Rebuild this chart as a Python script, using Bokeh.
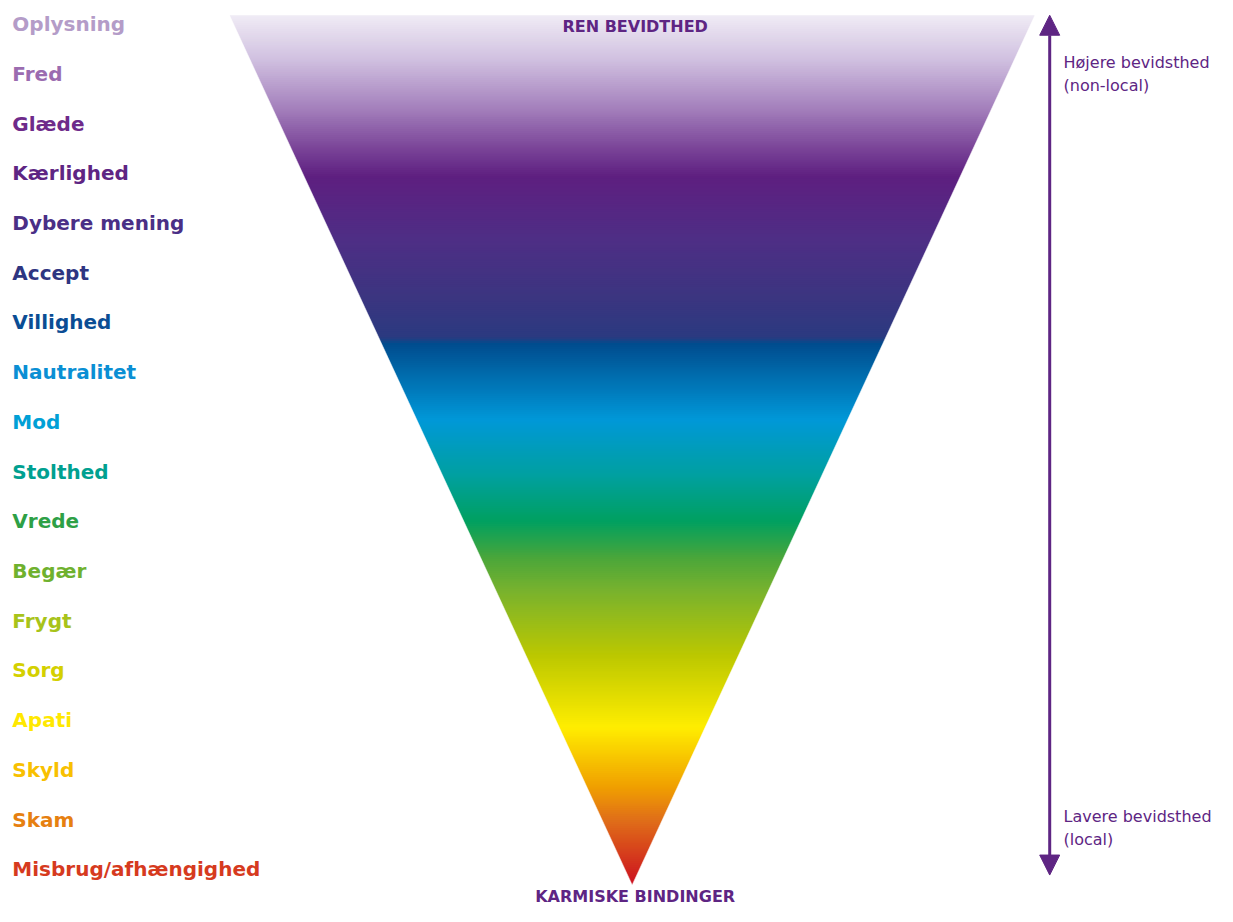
import numpy as np
from bokeh.plotting import figure
from bokeh.models import Range1d, Arrow, NormalHead, ColumnDataSource
from bokeh.core.properties import value
from bokeh.embed import file_html
from bokeh.resources import INLINE

# ---- data ----
levels = ["Oplysning", "Fred", "Glæde", "Kærlighed", "Dybere mening", "Accept",
          "Villighed", "Nautralitet", "Mod", "Stolthed", "Vrede", "Begær",
          "Frygt", "Sorg", "Apati", "Skyld", "Skam", "Misbrug/afhængighed"]
level_colors = ["#b49cc8", "#9b6cb0", "#6e2a8a", "#5e2583", "#4a2f86", "#2e3581",
                "#0a4d94", "#0a8fd4", "#00a0d6", "#00a090", "#2ea046", "#6fb12e",
                "#a8c31a", "#d4d000", "#ffe800", "#f8c000", "#e68010", "#d63a1e"]
# gradient stops: fraction from top (0) to apex (1), colour
grad_pos = [0.0, 0.051, 0.107, 0.153, 0.186, 0.258, 0.325, 0.370, 0.378,
            0.465, 0.529, 0.582, 0.624, 0.661, 0.737, 0.819, 0.887, 0.924, 1.0]
grad_col = ["#f0ecf5", "#d0c0e0", "#a480bc", "#7a4498", "#5e1f80", "#4e2e85",
            "#3b3580", "#2b3a80", "#004c8e", "#0098d8", "#00a0a0", "#00a060",
            "#4aa63a", "#78b22e", "#bcc800", "#ffed00", "#f0a000", "#e07018",
            "#cc1020"]
top_label = "REN BEVIDTHED"
bottom_label = "KARMISKE BINDINGER"
upper_note = ["Højere bevidsthed", "(non-local)"]
lower_note = ["Lavere bevidsthed", "(local)"]

# ---- figure ----
W, H = 1217, 906
p = figure(width=W, height=H, output_backend="svg", toolbar_location=None,
           x_range=Range1d(0, 1233), y_range=Range1d(922, 0),
           min_border=0)
p.axis.visible = False
p.grid.visible = False
p.outline_line_color = None
p.background_fill_color = "white"

# triangle geometry
tx0, tx1, ty_top = 232, 1048, 15
apex_x, apex_y = 640, 900

def hex2rgb(h):
    return np.array([int(h[i:i + 2], 16) for i in (1, 3, 5)], float)

rgb = np.array([hex2rgb(c) for c in grad_col])
n = 443
edges = np.linspace(0, 1, n + 1)
step = (apex_y - ty_top) / n
l, r, b, t, cols = [], [], [], [], []
for i in range(n):
    fm = 0.5 * (edges[i] + edges[i + 1])
    c = [np.interp(fm, grad_pos, rgb[:, k]) for k in range(3)]
    cols.append("#%02x%02x%02x" % tuple(int(round(v)) for v in c))
    y0 = ty_top + edges[i] * (apex_y - ty_top)
    t.append(y0)
    b.append(min(y0 + 2.2 * step, apex_y))
    l.append(tx0)
    r.append(tx1)
p.quad(left=l, right=r, top=t, bottom=b, fill_color=cols, line_color=None)

# white masks outside the triangle's slanted sides
p.patches(xs=[[tx0 - 2, tx0, apex_x, apex_x - 2, tx0 - 2],
              [tx1 + 2, tx1, apex_x, apex_x + 2, tx1 + 2]],
          ys=[[ty_top - 2, ty_top, apex_y, apex_y + 2, apex_y + 2]] * 2,
          fill_color="white", line_color="white", line_width=0.5)

# left labels
lab_y = [24 + i * 50.6 for i in range(len(levels))]
src = ColumnDataSource(dict(x=[12] * len(levels), y=lab_y, t=levels, c=level_colors))
p.text(x="x", y="y", text="t", text_color="c", source=src,
       text_font=value("DejaVu Sans"), text_font_style="bold",
       text_font_size="20px", text_align="left", text_baseline="middle")

purple = "#5e2583"
p.text(x=[643], y=[26], text=[top_label], text_color=purple,
       text_font=value("DejaVu Sans"), text_font_style="bold", text_font_size="16px",
       text_align="center", text_baseline="middle")
p.text(x=[643], y=[912], text=[bottom_label], text_color=purple,
       text_font=value("DejaVu Sans"), text_font_style="bold", text_font_size="16px",
       text_align="center", text_baseline="middle")

p.text(x=[1077, 1077], y=[63, 87], text=upper_note, text_color=purple,
       text_font=value("DejaVu Sans"), text_font_size="16px",
       text_align="left", text_baseline="middle")
p.text(x=[1077, 1077], y=[830, 854], text=lower_note, text_color=purple,
       text_font=value("DejaVu Sans"), text_font_size="16px",
       text_align="left", text_baseline="middle")

# double-headed arrow
arr = Arrow(x_start=1063, y_start=890, x_end=1063, y_end=15,
            line_color=purple, line_width=3,
            start=NormalHead(size=20, fill_color=purple, line_color=purple),
            end=NormalHead(size=20, fill_color=purple, line_color=purple))
p.add_layout(arr)

open("out.html", "w").write(file_html(p, INLINE))
